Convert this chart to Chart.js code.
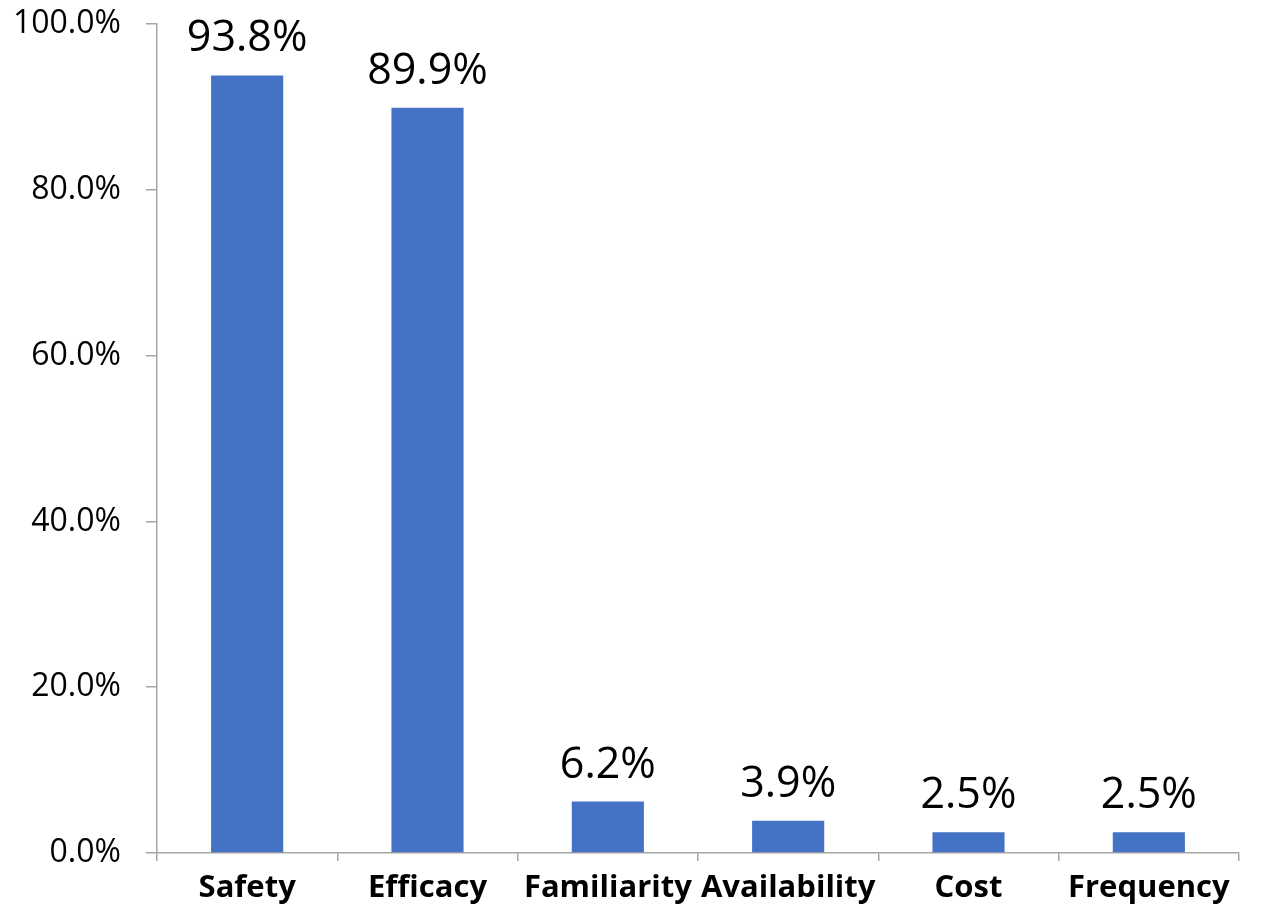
<!DOCTYPE html>
<html>
<head>
<meta charset="utf-8">
<script src="https://cdn.jsdelivr.net/npm/chart.js@4"></script>
<style>
  html, body { margin: 0; padding: 0; background: #fff; }
  #wrap { width: 1272px; height: 915px; position: relative; }
</style>
</head>
<body>
<div id="wrap"><canvas id="reasonsChart"></canvas></div>
<script>
const categories = ["Safety", "Efficacy", "Familiarity", "Availability", "Cost", "Frequency"];
const percentValues = [93.8, 89.9, 6.2, 3.9, 2.5, 2.5];
const yTicks = [0, 20, 40, 60, 80, 100];

const axisGray = "#a6a6a6";
const barBlue = "#4472c4";

// draws the value above each bar
const valueLabels = {
  id: "valueLabels",
  afterDatasetsDraw(chart) {
    const ctx = chart.ctx;
    const meta = chart.getDatasetMeta(0);
    ctx.save();
    ctx.font = "43px 'Open Sans'";
    ctx.fillStyle = "#000";
    ctx.textAlign = "center";
    ctx.textBaseline = "alphabetic";
    meta.data.forEach((bar, i) => {
      ctx.fillText(percentValues[i].toFixed(1) + "%", bar.x, bar.y - 24);
    });
    ctx.restore();
  },
};

window.onload = function () {
  new Chart(document.getElementById("reasonsChart"), {
    type: "bar",
    data: {
      labels: categories,
      datasets: [
        {
          data: percentValues,
          backgroundColor: barBlue,
          borderWidth: 0,
          barPercentage: 0.4,
          categoryPercentage: 1,
        },
      ],
    },
    options: {
      responsive: true,
      maintainAspectRatio: false,
      animation: false,
      layout: { padding: { top: 24, right: 33, left: 0, bottom: 0 } },
      plugins: { legend: { display: false }, tooltip: { enabled: false } },
      scales: {
        x: {
          afterFit: (scale) => {
            scale.height = 62;
            scale.paddingLeft = 0;
            scale.paddingRight = 0;
          },
          border: { color: axisGray, width: 1.5 },
          grid: {
            offset: true,
            drawOnChartArea: false,
            drawTicks: true,
            tickLength: 8,
            color: axisGray,
            lineWidth: 1.5,
          },
          ticks: {
            color: "#000",
            padding: 9,
            autoSkip: false,
            maxRotation: 0,
            minRotation: 0,
            font: { family: "'Open Sans'", size: 31, weight: "bold" },
          },
        },
        y: {
          min: 0,
          max: 100,
          afterFit: (scale) => {
            scale.width = 157;
            scale.paddingTop = 0;
            scale.paddingBottom = 0;
          },
          afterBuildTicks: (scale) => {
            scale.ticks = yTicks.map((v) => ({ value: v }));
          },
          border: { color: axisGray, width: 1.5 },
          grid: {
            drawOnChartArea: false,
            drawTicks: true,
            tickLength: 11,
            color: axisGray,
            lineWidth: 1.5,
          },
          ticks: {
            color: "#000",
            padding: 25,
            font: { family: "'Open Sans'", size: 32 },
            callback: (v) => v.toFixed(1) + "%",
          },
        },
      },
    },
    plugins: [valueLabels],
  });
};
</script>
</body>
</html>
